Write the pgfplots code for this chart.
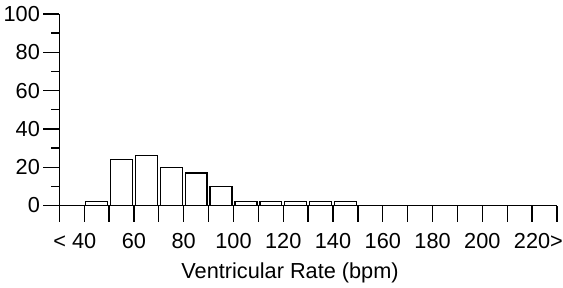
\documentclass[border=0pt]{standalone}
\usepackage{fontspec}
\setmainfont{Liberation Sans}
\usepackage{pgfplots}
\pgfplotsset{compat=1.18}
\begin{document}
\fontsize{10.9}{13}\selectfont
\begin{tikzpicture}[x=1bp,y=1bp]
\useasboundingbox (-29.65,-41.25) rectangle (251.85,102.75);
\begin{axis}[
  at={(0,0)}, anchor=south west,
  scale only axis, width=248.85bp, height=95.75bp,
  xmin=30, xmax=230, ymin=0, ymax=100,
  axis lines=left,
  axis line style={-, line width=0.65bp, black},
  tick align=outside,
  major tick length=8bp, minor tick length=4bp,
  tick style={black, line width=0.65bp},
  xtick={30,40,...,230},
  xticklabels={,\llap{< }40,,60,,80,,100,,120,,140,,160,,180,,200,,220\rlap{>},},
  ytick={0,20,...,100},
  minor ytick={10,30,...,90},
  /pgf/number format/assume math mode=true,
  ticklabel style={font=\fontsize{10.9}{13}\selectfont},
  yticklabel style={inner xsep=1.5bp},
  xticklabel style={yshift=-2bp},
  xlabel={Ventricular Rate (bpm)},
  xlabel style={at={(axis description cs:0.4636,-0.382)}, anchor=base, inner sep=0pt, font=\fontsize{10.9}{13}\selectfont},
  clip=false,
]
\addplot[ybar, bar width=8.8, fill=white, draw=black, line width=0.65bp] coordinates {
  (45,2) (55,24) (65,26) (75,20) (85,17) (95,10)
  (105,2) (115,2) (125,2) (135,2) (145,2)
};
\end{axis}
\end{tikzpicture}
\end{document}
